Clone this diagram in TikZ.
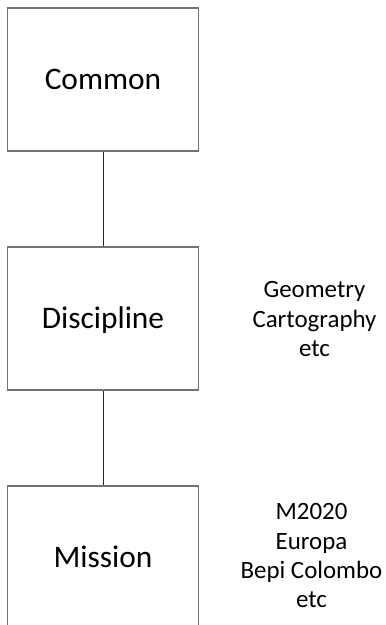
\documentclass[tikz,border=0pt]{standalone}
\usepackage{fontspec}
\setmainfont{Carlito}
\begin{document}
\begin{tikzpicture}[x=1bp,y=-1bp,
  level/.style={draw=black!55, line width=1.3bp, minimum width=191bp,
    minimum height=143bp, inner sep=0pt, text height=20pt, text depth=0pt,
    font=\fontsize{31.5}{36}\selectfont},
  link/.style={draw=black!85, line width=1bp},
  notes/.style={align=center, inner sep=0pt, anchor=north,
    font=\fontsize{25}{29.3}\selectfont}]
\useasboundingbox (0,0) rectangle (385,625);
\clip (0,0) rectangle (385,625);
\fill[white] (0,0) rectangle (385,625);
% the three levels of the hierarchy
\node[level] (common) at (103,79.5) {Common};
\node[level] (discipline) at (103,318.5) {Discipline};
\node[level] (mission) at (103,557.5) {Mission};
% vertical links between levels
\draw[link] (common.south) -- (discipline.north);
\draw[link] (discipline.south) -- (mission.north);
% examples for each level
\node[notes] (discnotes) at (314.5,281.5) {Geometry\\Cartography\\etc};
\node[notes] (missnotes) at (311.5,503.5) {M2020\\Europa\\Bepi Colombo\\etc};
\end{tikzpicture}
\end{document}
